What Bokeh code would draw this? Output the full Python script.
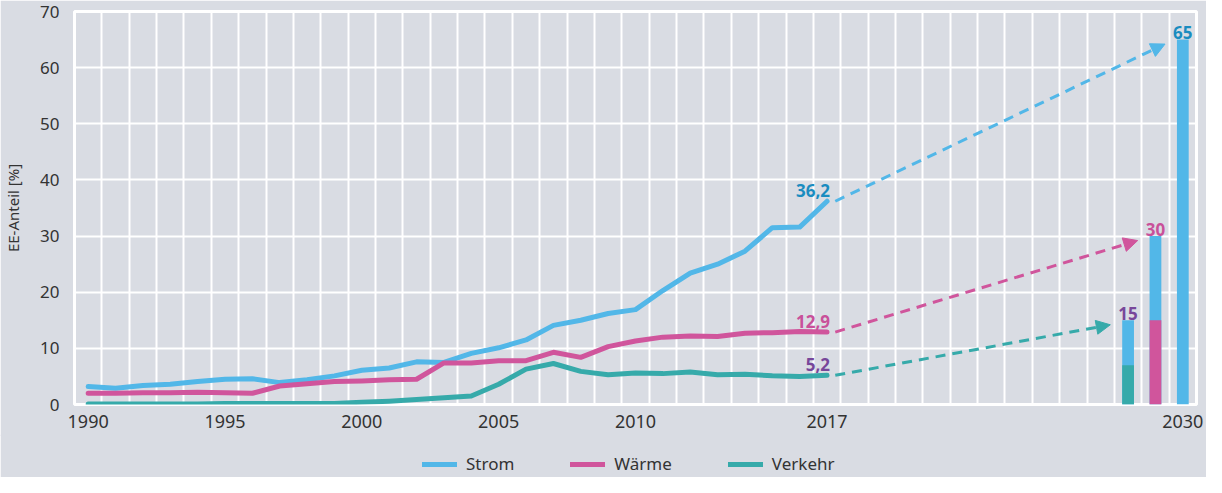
from bokeh.plotting import figure
from bokeh.layouts import column
from bokeh.models import FixedTicker, Legend, LegendItem, Arrow, NormalHead, Range1d
from bokeh.core.properties import value
from bokeh.embed import file_html
from bokeh.resources import INLINE

# ---------------- data ----------------
years = list(range(1990, 2018))
strom = [3.2, 2.9, 3.4, 3.6, 4.1, 4.5, 4.6, 3.9, 4.4, 5.1, 6.1, 6.5, 7.6, 7.5, 9.1, 10.1, 11.5, 14.1, 15.0, 16.2, 16.9, 20.3, 23.4, 25.0, 27.3, 31.5, 31.6, 36.2]
waerme = [2.0, 2.0, 2.1, 2.1, 2.2, 2.1, 2.0, 3.3, 3.7, 4.1, 4.2, 4.4, 4.5, 7.4, 7.4, 7.8, 7.8, 9.3, 8.4, 10.3, 11.3, 12.0, 12.2, 12.1, 12.7, 12.8, 13.0, 12.9]
verkehr = [0.1, 0.1, 0.1, 0.1, 0.1, 0.2, 0.2, 0.2, 0.2, 0.2, 0.4, 0.6, 0.9, 1.2, 1.5, 3.6, 6.3, 7.3, 5.9, 5.3, 5.6, 5.5, 5.8, 5.3, 5.4, 5.1, 5.0, 5.2]
series_names = ["Strom", "Wärme", "Verkehr"]
end_labels = ["36,2", "12,9", "5,2"]

bar_years = [2028, 2029, 2030]
bar_totals = [15, 30, 65]
bar_lower = [7, 15, 0]          # lower segment of each target bar
bar_labels = ["15", "30", "65"]

x_ticks = [1990, 1995, 2000, 2005, 2010, 2017, 2030]
y_ticks = [0, 10, 20, 30, 40, 50, 60, 70]

# ---------------- style ----------------
BG = "#d9dce3"
C_STROM = "#52b7e8"
C_WAERME = "#d0559c"
C_VERKEHR = "#36aaaa"
C_LBL_BLUE = "#1a8cc0"
C_LBL_PINK = "#c9509a"
C_LBL_PURPLE = "#77479a"
TXT = "#333333"
FONT = "Noto Sans"

p = figure(width=1206, height=436, output_backend="svg", toolbar_location=None,
           x_range=Range1d(1989.5, 2030.5), y_range=Range1d(0, 70),
           min_border_left=74, min_border_right=10, min_border_top=11, min_border_bottom=32)
p.background_fill_color = BG
p.border_fill_color = BG
p.outline_line_color = "white"
p.outline_line_width = 3

p.xgrid.ticker = FixedTicker(ticks=[1990.5 + i for i in range(40)])
p.ygrid.ticker = FixedTicker(ticks=y_ticks)
for g in (p.xgrid, p.ygrid):
    g.grid_line_color = "white"
    g.grid_line_width = 2
    g.grid_line_alpha = 1

p.xaxis.ticker = FixedTicker(ticks=x_ticks)
p.yaxis.ticker = FixedTicker(ticks=y_ticks)
for ax in (p.xaxis, p.yaxis):
    ax.axis_line_color = None
    ax.major_tick_line_color = None
    ax.minor_tick_line_color = None
    ax.major_tick_out = 0
    ax.major_tick_in = 0
    ax.minor_tick_out = 0
    ax.major_label_text_font = FONT
    ax.major_label_text_color = TXT
p.xaxis.major_label_text_font_size = "18px"
p.yaxis.major_label_text_font_size = "17px"
p.xaxis.major_label_standoff = 10
p.yaxis.major_label_standoff = 15
p.yaxis.axis_label = "EE-Anteil [%]"
p.yaxis.axis_label_text_font = FONT
p.yaxis.axis_label_text_font_size = "15px"
p.yaxis.axis_label_text_font_style = "normal"
p.yaxis.axis_label_text_color = TXT
p.yaxis.axis_label_standoff = 14

# target bars
p.vbar(x=bar_years, bottom=0, top=bar_totals, width=0.43, fill_color=C_STROM, line_color=None)
p.vbar(x=bar_years[:2], bottom=0, top=bar_lower[:2], width=0.43,
       fill_color=[C_VERKEHR, C_WAERME], line_color=None)

# lines
line_kw = dict(line_width=5, line_cap="round", line_join="round")
p.line(years, strom, line_color=C_STROM, **line_kw)
p.line(years, waerme, line_color=C_WAERME, **line_kw)
p.line(years, verkehr, line_color=C_VERKEHR, **line_kw)

# dashed arrows from 2017 values to targets
ends = [strom[-1], waerme[-1], verkehr[-1]]
targets = [(bar_years[2], bar_totals[2]), (bar_years[1], bar_totals[1]), (bar_years[0], bar_totals[0])]
arrow_cols = [C_STROM, C_WAERME, C_VERKEHR]
for v0, (ty, tv), c in zip(ends, targets, arrow_cols):
    p.add_layout(Arrow(x_start=years[-1] + 0.3, y_start=v0, x_end=ty - 0.65, y_end=tv - 0.8,
                       line_color=c, line_width=3, line_dash="10 7",
                       end=NormalHead(size=14, fill_color=c, line_color=c, line_width=1)))

# value labels
p.text(x=[years[-1]] * 3, y=ends, text=end_labels, text_align="right", text_baseline="alphabetic",
       x_offset=3, y_offset=-11, text_font=value(FONT), text_font_size="17px", text_font_style="bold",
       text_color=[C_LBL_BLUE, C_LBL_PINK, C_LBL_PURPLE])
p.text(x=bar_years, y=bar_totals, text=bar_labels, text_align="center", text_baseline="alphabetic",
       y_offset=-7, text_font=value(FONT), text_font_size="17px", text_font_style="bold",
       text_color=[C_LBL_PURPLE, C_LBL_PINK, C_LBL_BLUE])

# ---------------- legend strip below the chart ----------------
lg = figure(width=1206, height=43, output_backend="svg", toolbar_location=None,
            x_range=Range1d(0, 1), y_range=Range1d(0, 1), margin=(-2, 0, 0, 0),
            min_border_left=0, min_border_right=0, min_border_top=0, min_border_bottom=0)
lg.background_fill_color = BG
lg.border_fill_color = BG
lg.outline_line_color = BG
lg.outline_line_width = 4
lg.axis.visible = False
lg.grid.visible = False
cols = [C_STROM, C_WAERME, C_VERKEHR]
items = []
for name, c in zip(series_names, cols):
    # legend-key renderer kept outside the visible range of the strip
    r = lg.line([0, 1], [-5, -5], line_color=c, **line_kw)
    items.append(LegendItem(label=name, renderers=[r]))
legend = Legend(items=items, location=(348, 2), orientation="horizontal",
                glyph_width=35, glyph_height=18, label_standoff=9, spacing=56,
                padding=0, margin=0, background_fill_alpha=0, border_line_alpha=0,
                label_text_font=FONT, label_text_font_size="17px", label_text_color=TXT)
lg.add_layout(legend)

layout = column(p, lg, spacing=0)
open("out.html", "w").write(file_html(layout, INLINE))
